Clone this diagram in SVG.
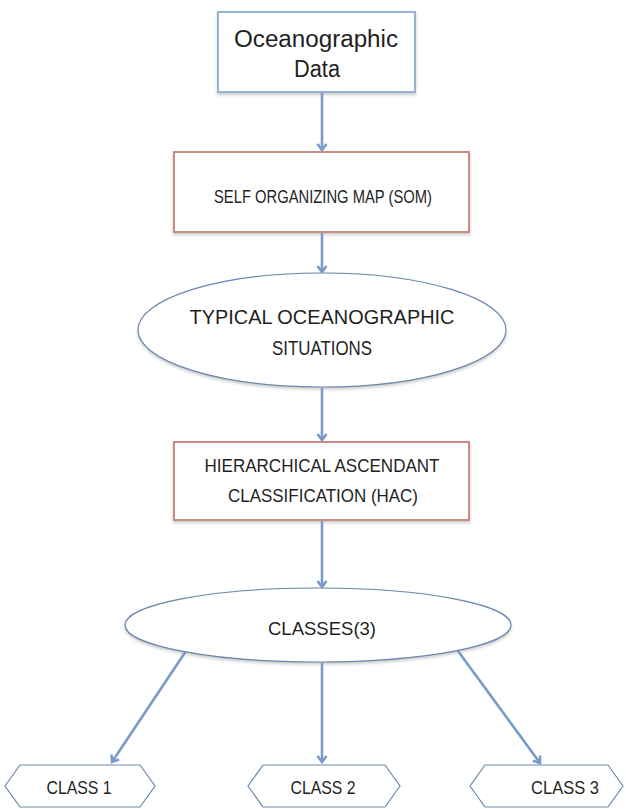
<svg xmlns="http://www.w3.org/2000/svg" width="626" height="809" viewBox="0 0 626 809">
  <style>
    .txt { font-family: "Liberation Sans", Arial, sans-serif; fill: #1f1f1f; text-anchor: middle; }
    .blue { fill: #ffffff; stroke: #95b3d7; stroke-width: 2; }
    .red { fill: #ffffff; stroke: #c98b88; stroke-width: 2; }
    .oval { fill: #ffffff; stroke: #6a87ad; stroke-width: 1.2; }
    .conn { stroke: #7a9bc9; stroke-width: 2.6; fill: none; marker-end: url(#arr); }
  </style>
  <defs>
    <marker id="arr" markerWidth="12" markerHeight="12" refX="7" refY="6" orient="auto" markerUnits="userSpaceOnUse">
      <path d="M1,1.5 L7,6 L1,10.5" fill="none" stroke="#7a9bc9" stroke-width="2.6"/>
    </marker>
    <filter id="sh" x="-10%" y="-10%" width="120%" height="130%">
      <feDropShadow dx="0" dy="2" stdDeviation="1.5" flood-color="#9a9a9a" flood-opacity="0.5"/>
    </filter>
  </defs>
  <rect width="626" height="809" fill="#ffffff"/>

  <g id="connectors">
    <line class="conn" x1="322" y1="92" x2="322" y2="150"/>
    <line class="conn" x1="322" y1="232" x2="322" y2="272"/>
    <line class="conn" x1="322" y1="388" x2="322" y2="440"/>
    <line class="conn" x1="322" y1="520" x2="322" y2="587"/>
    <line class="conn" x1="186" y1="651" x2="112" y2="762"/>
    <line class="conn" x1="322" y1="663" x2="322" y2="762"/>
    <line class="conn" x1="458" y1="651" x2="540" y2="763"/>
  </g>

  <g id="data">
    <rect class="blue" x="218" y="12" width="197" height="80" filter="url(#sh)"/>
    <text class="txt" x="316" y="47" font-size="23" textLength="164" lengthAdjust="spacingAndGlyphs">Oceanographic</text>
    <text class="txt" x="317" y="77" font-size="23" textLength="46" lengthAdjust="spacingAndGlyphs">Data</text>
  </g>

  <g id="som">
    <rect class="red" x="174" y="152" width="295" height="80" filter="url(#sh)"/>
    <text class="txt" x="323" y="203" font-size="19" textLength="218" lengthAdjust="spacingAndGlyphs">SELF ORGANIZING MAP (SOM)</text>
  </g>

  <g id="situations">
    <ellipse class="oval" cx="322" cy="330" rx="184" ry="57" filter="url(#sh)"/>
    <text class="txt" x="322" y="324" font-size="20" textLength="265" lengthAdjust="spacingAndGlyphs">TYPICAL OCEANOGRAPHIC</text>
    <text class="txt" x="322" y="355" font-size="20" textLength="100" lengthAdjust="spacingAndGlyphs">SITUATIONS</text>
  </g>

  <g id="hac">
    <rect class="red" x="174" y="442" width="295" height="78" filter="url(#sh)"/>
    <text class="txt" x="322" y="472" font-size="19" textLength="235" lengthAdjust="spacingAndGlyphs">HIERARCHICAL ASCENDANT</text>
    <text class="txt" x="323" y="502" font-size="19" textLength="190" lengthAdjust="spacingAndGlyphs">CLASSIFICATION (HAC)</text>
  </g>

  <g id="classes">
    <ellipse class="oval" cx="318" cy="625" rx="193" ry="37" filter="url(#sh)"/>
    <text class="txt" x="322" y="635" font-size="19" textLength="108" lengthAdjust="spacingAndGlyphs">CLASSES(3)</text>
  </g>

  <g id="class1">
    <polygon class="oval" points="5,786 20,765 140,765 155,786 140,807 20,807"/>
    <text class="txt" x="79" y="794" font-size="18" textLength="65" lengthAdjust="spacingAndGlyphs">CLASS 1</text>
  </g>
  <g id="class2">
    <polygon class="oval" points="248,786 263,765 385,765 400,786 385,807 263,807"/>
    <text class="txt" x="323" y="794" font-size="18" textLength="65" lengthAdjust="spacingAndGlyphs">CLASS 2</text>
  </g>
  <g id="class3">
    <polygon class="oval" points="470,786 485,765 608,765 623,786 608,807 485,807"/>
    <text class="txt" x="565" y="794" font-size="18" textLength="68" lengthAdjust="spacingAndGlyphs">CLASS 3</text>
  </g>
</svg>
